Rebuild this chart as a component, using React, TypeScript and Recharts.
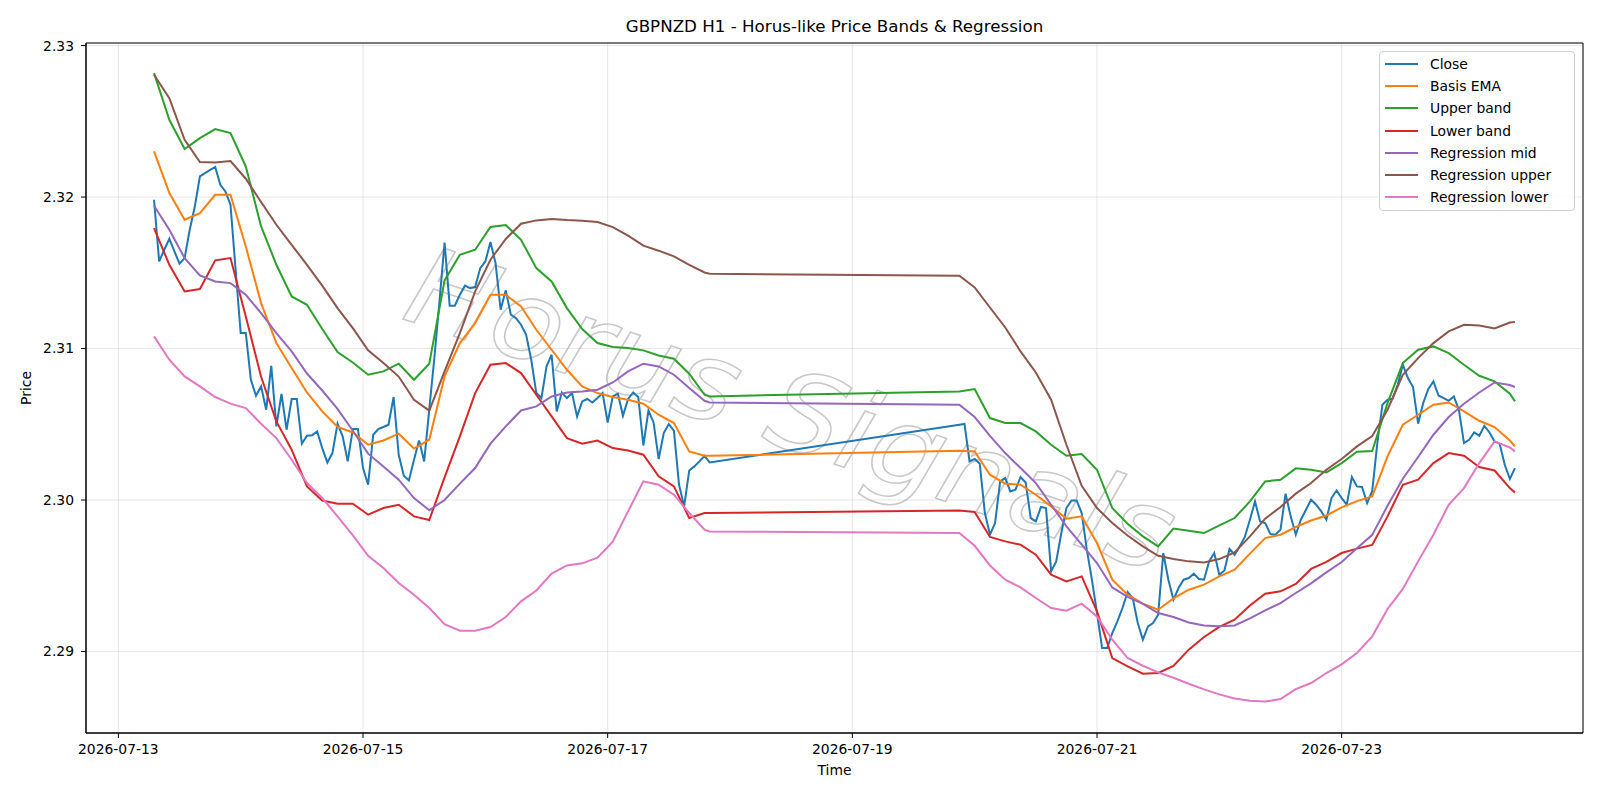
import React from 'react'
import { LineChart, Line, XAxis, YAxis, CartesianGrid, Legend, ReferenceArea } from 'recharts'

const FONT = '"DejaVu Sans", Verdana, sans-serif'
const HOUR = 3600 * 1000

// hourly bars: Mon 07:00 -> Fri 20:00, then Sun 21:00 -> Fri 10:00
const WEEK1_START = Date.UTC(2026, 6, 13, 7)
const WEEK2_START = Date.UTC(2026, 6, 19, 21)

const dateTicks = ['2026-07-13', '2026-07-15', '2026-07-17', '2026-07-19', '2026-07-21', '2026-07-23']
const priceTicks = [2.29, 2.3, 2.31, 2.32, 2.33]

const closeWeek1 = [
  2.31982, 2.31575, 2.31652, 2.31725, 2.31641, 2.3156, 2.31597, 2.31784, 2.31938, 2.32136,
  2.32158, 2.3218, 2.32198, 2.32081, 2.32037, 2.31949, 2.3152, 2.31102, 2.31102, 2.30794,
  2.30688, 2.3075, 2.30596, 2.30886, 2.30486, 2.307, 2.30464, 2.30667, 2.30667, 2.30372,
  2.30424, 2.30427, 2.30453, 2.30343, 2.30248, 2.3031, 2.30504, 2.3042, 2.30255, 2.30469,
  2.30469, 2.30211, 2.30101, 2.30431, 2.30469, 2.30482, 2.30497, 2.3068, 2.30299, 2.3016,
  2.30129, 2.30266, 2.30393, 2.30255, 2.306, 2.3094, 2.31311, 2.317, 2.31283, 2.31283,
  2.31355, 2.31415, 2.31399, 2.31406, 2.31531, 2.31575, 2.31703, 2.31564, 2.31256, 2.31384,
  2.31223, 2.31201, 2.31157, 2.31091, 2.30926, 2.30706, 2.30673, 2.30882, 2.30959, 2.30585,
  2.3071, 2.30673, 2.30706, 2.30552, 2.30651, 2.30667, 2.30644, 2.30673, 2.30706, 2.30512,
  2.30684, 2.30702, 2.30556, 2.30667, 2.3071, 2.3068, 2.3036, 2.30591, 2.30512, 2.30271,
  2.30442, 2.30502, 2.30457, 2.30101, 2.29958, 2.30195, 2.30222, 2.30255, 2.30292, 2.30248,
]
const closeWeek2 = [
  2.30497, 2.30502, 2.30255, 2.30271, 2.3024, 2.29914, 2.29771, 2.29848, 2.30123, 2.30145,
  2.30057, 2.30068, 2.30152, 2.30116, 2.29881, 2.29859, 2.29954, 2.29947, 2.29529, 2.29595,
  2.29782, 2.29947, 2.29997, 2.29997, 2.29914, 2.29672, 2.29474, 2.29254, 2.29023, 2.29023,
  2.29122, 2.29199, 2.29287, 2.29393, 2.29353, 2.29188, 2.29078, 2.29166, 2.29188, 2.29243,
  2.2965, 2.29474, 2.29342, 2.29419, 2.29474, 2.29485, 2.29514, 2.29479, 2.29474, 2.29595,
  2.2965, 2.29507, 2.29535, 2.29677, 2.29639, 2.29694, 2.29756, 2.2987, 2.29991, 2.29859,
  2.29848, 2.29776, 2.29771, 2.29804, 2.30042, 2.29892, 2.29771, 2.2987, 2.29936, 2.30002,
  2.29969, 2.29925, 2.2987, 2.30013, 2.30063, 2.30013, 2.29969, 2.30152, 2.3009, 2.30086,
  2.2998, 2.3006, 2.30376, 2.30629, 2.30662, 2.30669, 2.30761, 2.30893, 2.30805, 2.30746,
  2.30504, 2.3064, 2.30733, 2.30783, 2.3069, 2.30673, 2.30655, 2.30684, 2.30596, 2.30376,
  2.30398, 2.30446, 2.30424, 2.3049, 2.30446, 2.30387, 2.30372, 2.30233, 2.30139, 2.30211,
]

// the smooth series are read every 3 bars (plus the last bar of each week)
const bandOffsets = Array.from({ length: 37 }, (_, k) => k * 3).concat(109)

const basisWeek1 = [
  2.32301, 2.32026, 2.3185, 2.31894, 2.32015, 2.32015, 2.31674, 2.313, 2.31036, 2.30871,
  2.3071, 2.30585, 2.30482, 2.30446, 2.30365, 2.30393, 2.30438, 2.3034, 2.30398, 2.30816,
  2.31036, 2.31168, 2.31355, 2.31355, 2.31278, 2.31124, 2.30992, 2.3086, 2.3075, 2.30706,
  2.3068, 2.30662, 2.30636, 2.30563, 2.30508, 2.30321, 2.30292, 2.30292,
]
const basisWeek2 = [
  2.30325, 2.30321, 2.30167, 2.30108, 2.30101, 2.30035, 2.29958, 2.29877, 2.29892, 2.29716,
  2.29474, 2.29375, 2.29316, 2.29276, 2.29351, 2.29408, 2.29441, 2.29496, 2.2954, 2.29646,
  2.29749, 2.29771, 2.29822, 2.29865, 2.29898, 2.29951, 2.29993, 2.30024, 2.30288, 2.30497,
  2.30563, 2.30629, 2.30644, 2.30585, 2.30523, 2.30482, 2.30393, 2.30354,
]
const upperWeek1 = [
  2.32818, 2.3251, 2.32317, 2.32389, 2.32449, 2.32422, 2.32202, 2.31806, 2.31553, 2.31344,
  2.31289, 2.31129, 2.30977, 2.30908, 2.30827, 2.30849, 2.309, 2.30794, 2.309, 2.3145,
  2.31619, 2.31652, 2.31802, 2.31815, 2.31718, 2.31531, 2.31443, 2.31267, 2.31129, 2.31036,
  2.3101, 2.31003, 2.30988, 2.30954, 2.30933, 2.30834, 2.30695, 2.30684,
]
const upperWeek2 = [
  2.30717, 2.30733, 2.30541, 2.30508, 2.30508, 2.30453, 2.30365, 2.30292, 2.30304, 2.302,
  2.29947, 2.29844, 2.2976, 2.29694, 2.29812, 2.29797, 2.29782, 2.29832, 2.29881, 2.29991,
  2.30123, 2.30134, 2.30209, 2.302, 2.30182, 2.30244, 2.30319, 2.30323, 2.3064, 2.30904,
  2.30992, 2.31014, 2.3097, 2.30893, 2.3082, 2.30783, 2.30702, 2.30651,
]
const lowerWeek1 = [
  2.31795, 2.31553, 2.31377, 2.31393, 2.31582, 2.31597, 2.31212, 2.30814, 2.30519, 2.30332,
  2.3009, 2.29997, 2.29976, 2.29976, 2.29903, 2.29947, 2.29969, 2.29892, 2.29868, 2.3015,
  2.3042, 2.30706, 2.30893, 2.30904, 2.30838, 2.30695, 2.30552, 2.30409, 2.30372, 2.30393,
  2.30343, 2.30327, 2.30299, 2.30156, 2.3009, 2.29881, 2.29914, 2.29914,
]
const lowerWeek2 = [
  2.29931, 2.29921, 2.29756, 2.29727, 2.29705, 2.29639, 2.29507, 2.29463, 2.29496, 2.29265,
  2.28957, 2.28902, 2.28853, 2.28858, 2.28905, 2.29012, 2.29096, 2.29162, 2.2921, 2.29304,
  2.29382, 2.29397, 2.29446, 2.29545, 2.29591, 2.2965, 2.29679, 2.29704, 2.29892, 2.30101,
  2.30134, 2.30244, 2.3031, 2.30292, 2.30218, 2.30195, 2.30079, 2.3005,
]
const regMidWeek1 = [
  2.31943, 2.31784, 2.31597, 2.31483, 2.31443, 2.31432, 2.31355, 2.31234, 2.31102, 2.30981,
  2.30835, 2.30723, 2.30601, 2.30457, 2.30306, 2.30222, 2.30134, 2.30013, 2.29933, 2.3,
  2.30108, 2.30211, 2.30372, 2.30486, 2.30591, 2.30618, 2.30684, 2.3071, 2.30717, 2.30728,
  2.30776, 2.30849, 2.309, 2.30882, 2.30827, 2.30739, 2.30655, 2.30644,
]
const regMidWeek2 = [
  2.30629, 2.30548, 2.30424, 2.3031, 2.30211, 2.30112, 2.29969, 2.29826, 2.29705, 2.29584,
  2.29423, 2.2936, 2.29314, 2.29254, 2.29228, 2.29192, 2.29172, 2.29166, 2.29172, 2.29219,
  2.29271, 2.2932, 2.29386, 2.2945, 2.29522, 2.29591, 2.29681, 2.2977, 2.29962, 2.30141,
  2.30284, 2.30431, 2.30548, 2.30636, 2.3071, 2.30776, 2.30759, 2.30746,
]
const regUpperWeek1 = [
  2.32807, 2.32653, 2.32378, 2.32231, 2.32228, 2.32238, 2.32121, 2.31967, 2.31817, 2.31685,
  2.31553, 2.31415, 2.31267, 2.31135, 2.30988, 2.30904, 2.30815, 2.30662, 2.3059, 2.30849,
  2.31102, 2.31377, 2.31586, 2.31723, 2.31824, 2.31846, 2.31855, 2.31848, 2.31844, 2.31835,
  2.31802, 2.31745, 2.31679, 2.31646, 2.31608, 2.31553, 2.31502, 2.31494,
]
const regUpperWeek2 = [
  2.3148, 2.31403, 2.31271, 2.31139, 2.30981, 2.30842, 2.30662, 2.30365, 2.30094, 2.29947,
  2.29848, 2.29766, 2.29694, 2.29632, 2.2961, 2.29595, 2.29588, 2.2961, 2.29654, 2.2976,
  2.29877, 2.29954, 2.30042, 2.30112, 2.302, 2.30271, 2.30354, 2.30422, 2.30596, 2.30827,
  2.30937, 2.31036, 2.31113, 2.31157, 2.31152, 2.31133, 2.31172, 2.31175,
]
const regLowerWeek1 = [
  2.3108, 2.30926, 2.30816, 2.3075, 2.3068, 2.30636, 2.30607, 2.30504, 2.30409, 2.30266,
  2.30112, 2.30013, 2.29892, 2.29766, 2.29632, 2.29551, 2.29452, 2.29375, 2.29287, 2.2918,
  2.29137, 2.29137, 2.29162, 2.29228, 2.29331, 2.29403, 2.29514, 2.29568, 2.29582, 2.29619,
  2.29725, 2.29925, 2.30123, 2.30101, 2.30035, 2.29914, 2.29804, 2.29793,
]
const regLowerWeek2 = [
  2.29782, 2.29698, 2.29568, 2.29474, 2.29423, 2.29353, 2.29287, 2.29269, 2.29316, 2.29232,
  2.29078, 2.28957, 2.28906, 2.28862, 2.28827, 2.28787, 2.2875, 2.28717, 2.2869, 2.28675,
  2.2867, 2.28686, 2.28752, 2.28792, 2.28858, 2.28915, 2.2899, 2.291, 2.29281, 2.29413,
  2.29595, 2.29771, 2.29969, 2.30079, 2.30244, 2.30387, 2.30347, 2.30321,
]

type Pt = { t: number; v: number }

function hourly(w1: number[], w2: number[]): Pt[] {
  return [
    ...w1.map((v, i) => ({ t: WEEK1_START + i * HOUR, v })),
    ...w2.map((v, i) => ({ t: WEEK2_START + i * HOUR, v })),
  ]
}

function sampled(w1: number[], w2: number[]): Pt[] {
  return [
    ...w1.map((v, k) => ({ t: WEEK1_START + bandOffsets[k] * HOUR, v })),
    ...w2.map((v, k) => ({ t: WEEK2_START + bandOffsets[k] * HOUR, v })),
  ]
}

const SERIES = [
  { name: 'Close', color: '#1f77b4', data: hourly(closeWeek1, closeWeek2) },
  { name: 'Basis EMA', color: '#ff7f0e', data: sampled(basisWeek1, basisWeek2) },
  { name: 'Upper band', color: '#2ca02c', data: sampled(upperWeek1, upperWeek2) },
  { name: 'Lower band', color: '#d62728', data: sampled(lowerWeek1, lowerWeek2) },
  { name: 'Regression mid', color: '#9467bd', data: sampled(regMidWeek1, regMidWeek2) },
  { name: 'Regression upper', color: '#8c564b', data: sampled(regUpperWeek1, regUpperWeek2) },
  { name: 'Regression lower', color: '#e377c2', data: sampled(regLowerWeek1, regLowerWeek2) },
]

// matplotlib-style 5% margins around the data span
const DATA_END = WEEK2_START + 109 * HOUR
const PAD = (DATA_END - WEEK1_START) * 0.05
const X_MIN = WEEK1_START - PAD
const X_MAX = DATA_END + PAD
const Y_MIN = 2.28462
const Y_MAX = 2.33017

const xTicks = dateTicks.map(d => Date.parse(d + 'T00:00:00Z'))
const fmtDate = (t: number) => new Date(t).toISOString().slice(0, 10)

const tickStyle = { fill: '#000', fontSize: 13.9, fontFamily: FONT }

function LegendBox() {
  return (
    <div
      style={{
        width: 196,
        height: 160,
        boxSizing: 'border-box',
        border: '1px solid #d0d0d0',
        borderRadius: 4,
        background: 'rgba(255,255,255,0.8)',
        padding: '1px 0 0 5px',
        fontFamily: FONT,
        fontSize: 13.9,
        color: '#000',
      }}
    >
      {SERIES.map(s => (
        <div key={s.name} style={{ display: 'flex', alignItems: 'center', height: 22.2 }}>
          <span style={{ width: 33, height: 0, borderTop: `2px solid ${s.color}`, marginRight: 12 }} />
          <span>{s.name}</span>
        </div>
      ))}
    </div>
  )
}

export default function App() {
  return (
    <div style={{ position: 'absolute', left: 0, top: 0, width: 1600, height: 800, background: '#fff' }}>
      {/* title, axis labels, watermark */}
      <svg width={1600} height={800} style={{ position: 'absolute', left: 0, top: 0 }}>
        <text
          x={400}
          y={318}
          transform="rotate(18.6 400 318)"
          fontFamily={FONT}
          fontSize={110}
          fontStyle="italic"
          fill="none"
          stroke="#c8c8c8"
          strokeWidth={1.5}
          textLength={800}
          lengthAdjust="spacingAndGlyphs"
        >
          Horus Signals
        </text>
        <text x={834.5} y={26} textAnchor="middle" dominantBaseline="central" fontFamily={FONT} fontSize={16.7}>
          GBPNZD H1 - Horus-like Price Bands &amp; Regression
        </text>
        <text x={834.5} y={770} textAnchor="middle" dominantBaseline="central" fontFamily={FONT} fontSize={13.9}>
          Time
        </text>
        <text
          x={25.5}
          y={388}
          transform="rotate(-90 25.5 388)"
          textAnchor="middle"
          dominantBaseline="central"
          fontFamily={FONT}
          fontSize={13.9}
        >
          Price
        </text>
      </svg>
      <div style={{ position: 'absolute', left: 0, top: 0 }}>
        <LineChart width={1600} height={800} margin={{ top: 43, right: 17, bottom: 0, left: 0 }}>
          <CartesianGrid stroke="#b0b0b0" strokeOpacity={0.3} strokeWidth={1} />
          <XAxis
            type="number"
            dataKey="t"
            domain={[X_MIN, X_MAX]}
            ticks={xTicks}
            tickFormatter={fmtDate}
            interval={0}
            allowDataOverflow
            height={67}
            tick={tickStyle}
            tickLine={{ stroke: '#000' }}
            axisLine={{ stroke: '#000' }}
            tickSize={5}
            tickMargin={6}
          />
          <YAxis
            type="number"
            domain={[Y_MIN, Y_MAX]}
            ticks={priceTicks}
            tickFormatter={(v: number) => v.toFixed(2)}
            interval={0}
            allowDataOverflow
            width={86}
            tick={tickStyle}
            tickLine={{ stroke: '#000' }}
            axisLine={{ stroke: '#000' }}
            tickSize={5}
            tickMargin={7}
          />
          <ReferenceArea x1={X_MIN} x2={X_MAX} y1={Y_MIN} y2={Y_MAX} fill="none" stroke="#000" strokeWidth={1} ifOverflow="visible" />
          {SERIES.map(s => (
            <Line
              key={s.name}
              data={s.data}
              dataKey="v"
              name={s.name}
              type="linear"
              stroke={s.color}
              strokeWidth={2}
              dot={false}
              activeDot={false}
              isAnimationActive={false}
            />
          ))}
          <Legend
            layout="vertical"
            align="center"
            verticalAlign="middle"
            wrapperStyle={{ left: 1379, top: 51 }}
            content={LegendBox}
          />
        </LineChart>
      </div>
    </div>
  )
}
